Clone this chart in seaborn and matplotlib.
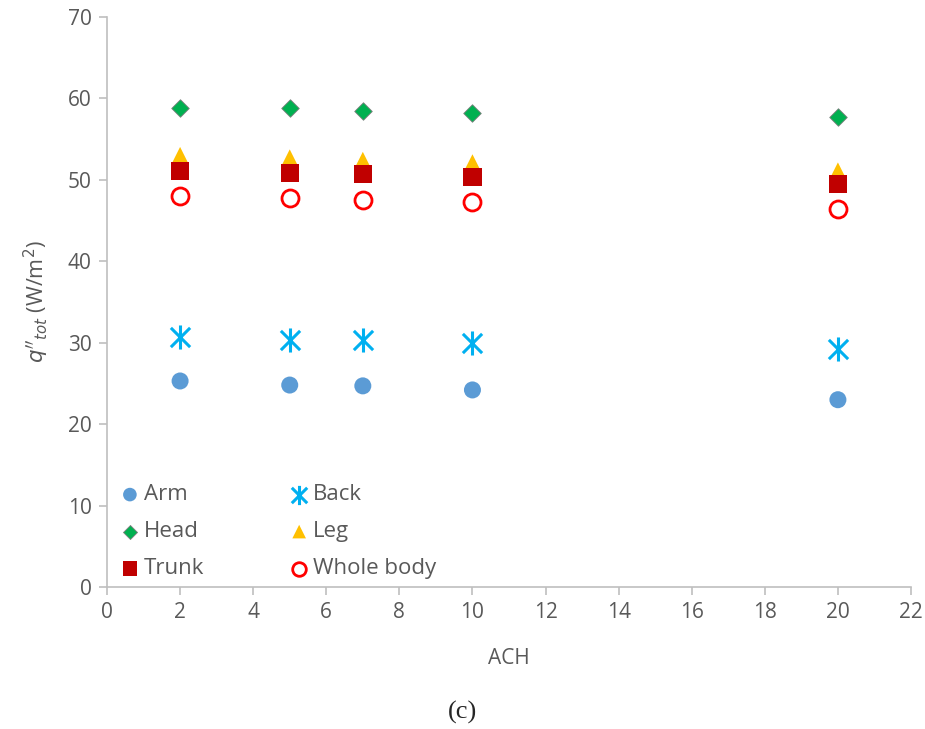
import numpy as np
import pandas as pd
import matplotlib.pyplot as plt
from matplotlib.path import Path
import seaborn as sns

ach = [2, 5, 7, 10, 20]
arm = [25.3, 24.8, 24.7, 24.2, 23.0]
back = [30.7, 30.3, 30.3, 30.0, 29.2]
head = [58.8, 58.8, 58.5, 58.2, 57.7]
leg = [53.0, 52.7, 52.4, 52.1, 51.1]
trunk = [51.1, 50.8, 50.7, 50.4, 49.5]
whole = [48.0, 47.8, 47.5, 47.3, 46.4]

# excel-style asterisk: X plus vertical bar
star = Path([(-0.8, -0.8), (0.8, 0.8), (-0.8, 0.8), (0.8, -0.8), (0, -1), (0, 1)],
            [Path.MOVETO, Path.LINETO, Path.MOVETO, Path.LINETO, Path.MOVETO, Path.LINETO])

series = [
    ("Arm", arm, dict(marker="o", color="#5B9BD5", s=150, edgecolor="none")),
    ("Back", back, dict(marker=star, color="#00B0F0", edgecolor="#00B0F0", s=300, linewidth=2.2)),
    ("Head", head, dict(marker="D", color="#00B050", s=80, edgecolor="#7f7f7f", linewidth=0.6)),
    ("Leg", leg, dict(marker="^", color="#FFC000", s=150, edgecolor="none")),
    ("Trunk", trunk, dict(marker="s", color="#C00000", s=170, edgecolor="none")),
    ("Whole body", whole, dict(marker="o", facecolor="white", edgecolor="#FF0000", s=150, linewidth=2)),
]

sns.set_style("white")
plt.rcParams['font.family'] = ['Open Sans', 'DejaVu Sans']

fig = plt.figure(figsize=(9.25, 7.29), dpi=100)
ax = fig.add_axes([107 / 925, 1 - 587 / 729, (911 - 107) / 925, (587 - 17) / 729])

for name, vals, kw in series:
    df = pd.DataFrame({"ACH": ach, "q": vals})
    sns.scatterplot(data=df, x="ACH", y="q", ax=ax, label=name, zorder=3, **kw)

ax.set_xlim(0, 22)
ax.set_ylim(0, 70)
ax.set_xticks(range(0, 23, 2))
ax.set_yticks(range(0, 71, 10))
for side in ["top", "right"]:
    ax.spines[side].set_visible(False)
for side in ["left", "bottom"]:
    ax.spines[side].set_color("#bfbfbf")
    ax.spines[side].set_linewidth(1.2)
ax.tick_params(axis="both", direction="out", length=6, color="#bfbfbf", width=1.2,
               labelsize=15, labelcolor="#595959", left=True, bottom=True, pad=5)
ax.set_xlabel("ACH", fontsize=15, color="#595959", labelpad=18)
ax.set_ylabel(r"$q''_{tot}$ (W/m$^2$)", fontsize=15.5, color="#595959", labelpad=12)

h, l = ax.get_legend_handles_labels()
order = [0, 2, 4, 1, 3, 5]
ax.legend([h[i] for i in order], [l[i] for i in order], ncol=2, frameon=False,
          loc="lower left", bbox_to_anchor=(-0.004, -0.014), fontsize=16, labelcolor="#595959",
          handletextpad=0.15, columnspacing=3.8, labelspacing=0.72, handlelength=0.95,
          markerscale=0.8, borderpad=0.2)

fig.text(0.5, 1 - 712 / 729, "(c)", ha="center", va="center", fontsize=19,
         family="Liberation Serif")

fig.savefig("out.png", dpi=100)
